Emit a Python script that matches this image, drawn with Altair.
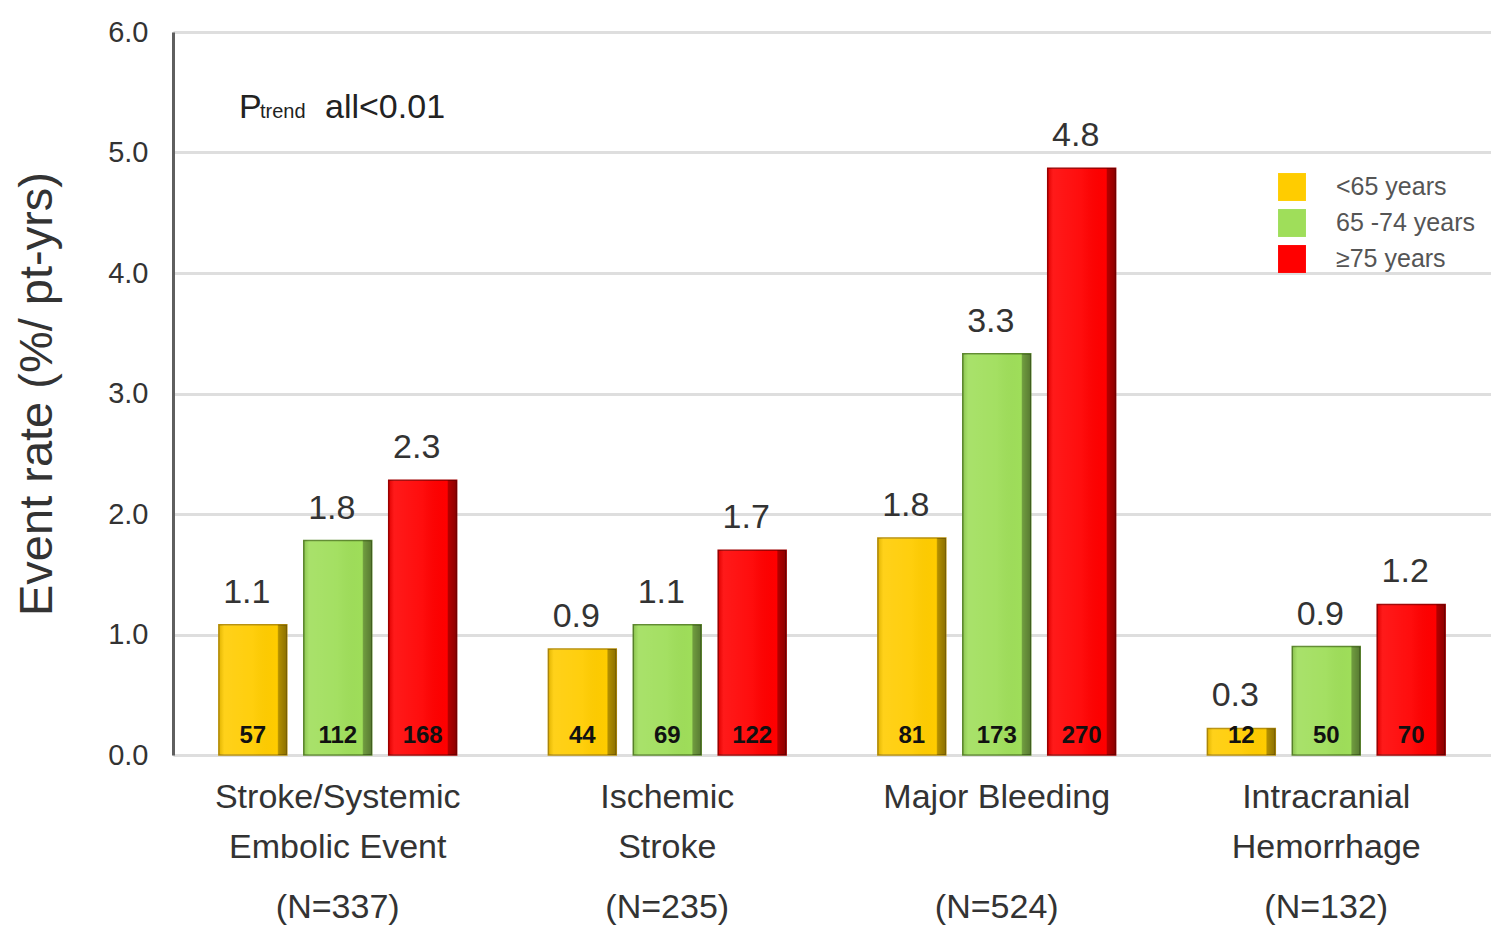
import altair as alt
import pandas as pd

categories = ["Stroke/Systemic Embolic Event", "Ischemic Stroke", "Major Bleeding", "Intracranial Hemorrhage"]
name_line1 = ["Stroke/Systemic", "Ischemic", "Major Bleeding", "Intracranial"]
name_line2 = ["Embolic Event", "Stroke", "", "Hemorrhage"]
n_labels = ["(N=337)", "(N=235)", "(N=524)", "(N=132)"]

age_groups = ["<65 years", "65 -74 years", "\u226575 years"]
age_colors = ["#FFCC00", "#9FDE5A", "#FF0000"]
age_edges = ["#B8900A", "#5E8A2E", "#A00000"]

rates = [
    [1.08, 1.78, 2.28],
    [0.88, 1.08, 1.70],
    [1.80, 3.33, 4.87],
    [0.22, 0.90, 1.25],
]
rate_labels = [
    ["1.1", "1.8", "2.3"],
    ["0.9", "1.1", "1.7"],
    ["1.8", "3.3", "4.8"],
    ["0.3", "0.9", "1.2"],
]
events = [
    [57, 112, 168],
    [44, 69, 122],
    [81, 173, 270],
    [12, 50, 70],
]

rows = []
for ci, cat in enumerate(categories):
    for ai, age in enumerate(age_groups):
        rows.append({
            "category": cat,
            "age": age,
            "rate": rates[ci][ai],
            "label": rate_labels[ci][ai],
            "events": str(events[ci][ai]),
            "zero": 0,
        })
df = pd.DataFrame(rows)

cat_df = pd.DataFrame({
    "category": categories,
    "l1": name_line1,
    "l2": name_line2,
    "n": n_labels,
})

FONT = "Liberation Sans"

x_enc = alt.X("category:N", sort=categories, axis=None,
              scale=alt.Scale(paddingInner=0, paddingOuter=0))
xoff_enc = alt.XOffset("age:N", sort=age_groups,
                       scale=alt.Scale(paddingInner=0.2, paddingOuter=0.54))
y_scale = alt.Scale(domain=[0, 6], nice=False)

base = alt.Chart(df)

bars = base.mark_bar(strokeWidth=1.5).encode(
    x=x_enc,
    xOffset=xoff_enc,
    y=alt.Y("rate:Q", scale=y_scale,
            axis=alt.Axis(values=[0, 1, 2, 3, 4, 5, 6], format=".1f", title="Event rate (%/ pt-yrs)",
                          ticks=False, labelPadding=25, labelFontSize=29, labelColor="#333333",
                          labelFont=FONT, titleFont=FONT, titleFontSize=47, titleFontWeight="normal",
                          titleColor="#333333", titlePadding=46,
                          domainColor="#5f5f5f", domainWidth=3,
                          gridColor="#dedede", gridWidth=3)),
    color=alt.Color("age:N", sort=age_groups,
                    scale=alt.Scale(domain=age_groups, range=age_colors),
                    legend=alt.Legend(title=None, orient="none", legendX=1105, legendY=141,
                                      symbolType="square", symbolSize=780, symbolStrokeWidth=0,
                                      symbolOpacity=1,
                                      labelFont=FONT, labelFontSize=25, labelColor="#555555",
                                      labelOffset=30, rowPadding=8)),
    stroke=alt.Stroke("age:N", sort=age_groups,
                      scale=alt.Scale(domain=age_groups, range=age_edges), legend=None),
)

shade = base.mark_bar(
    fill=alt.Gradient(
        gradient="linear", x1=0, y1=0, x2=1, y2=0,
        stops=[
            alt.GradientStop(offset=0, color="rgba(0,0,0,0.12)"),
            alt.GradientStop(offset=0.08, color="rgba(255,255,255,0.10)"),
            alt.GradientStop(offset=0.5, color="rgba(255,255,255,0.05)"),
            alt.GradientStop(offset=0.86, color="rgba(0,0,0,0.0)"),
            alt.GradientStop(offset=0.88, color="rgba(0,0,0,0.30)"),
            alt.GradientStop(offset=1, color="rgba(0,0,0,0.45)"),
        ],
    )
).encode(x=x_enc, xOffset=xoff_enc, y=alt.Y("rate:Q", scale=y_scale))

value_text = base.mark_text(font=FONT, fontSize=34, color="#333333", baseline="alphabetic", dy=-22, dx=-6).encode(
    x=x_enc, xOffset=xoff_enc, y=alt.Y("rate:Q", scale=y_scale), text="label:N"
)

count_text = base.mark_text(font=FONT, fontSize=24, fontWeight="bold", color="#111111",
                            baseline="alphabetic", dy=-12).encode(
    x=x_enc, xOffset=xoff_enc, y=alt.Y("zero:Q", scale=y_scale), text="events:N"
)

cat_base = alt.Chart(cat_df)
line1 = cat_base.mark_text(font=FONT, fontSize=34, color="#333333", baseline="middle").encode(
    x=x_enc, y=alt.value(766), text="l1:N")
line2 = cat_base.mark_text(font=FONT, fontSize=34, color="#333333", baseline="middle").encode(
    x=x_enc, y=alt.value(816), text="l2:N")
line3 = cat_base.mark_text(font=FONT, fontSize=34, color="#333333", baseline="middle").encode(
    x=x_enc, y=alt.value(876), text="n:N")

ann_df = pd.DataFrame({"t": ["P"], "s": ["trend"], "r": ["all<0.01"]})
ann_base = alt.Chart(ann_df)
p1 = ann_base.mark_text(font=FONT, fontSize=34, color="#222222", align="left", baseline="alphabetic").encode(
    x=alt.value(66), y=alt.value(86), text="t:N")
p2 = ann_base.mark_text(font=FONT, fontSize=20, color="#222222", align="left", baseline="alphabetic").encode(
    x=alt.value(87), y=alt.value(86), text="s:N")
p3 = ann_base.mark_text(font=FONT, fontSize=34, color="#222222", align="left", baseline="alphabetic").encode(
    x=alt.value(152), y=alt.value(86), text="r:N")

chart = alt.layer(bars, shade, value_text, count_text, line1, line2, line3, p1, p2, p3).properties(
    width=1318, height=723,
    autosize=alt.AutoSizeParams(type="none"),
    padding={"left": 173, "top": 32, "right": 0, "bottom": 171},
).configure_view(stroke=None).configure(background="white")

chart.save("out.html", embed_options={"renderer": "svg", "actions": False})
